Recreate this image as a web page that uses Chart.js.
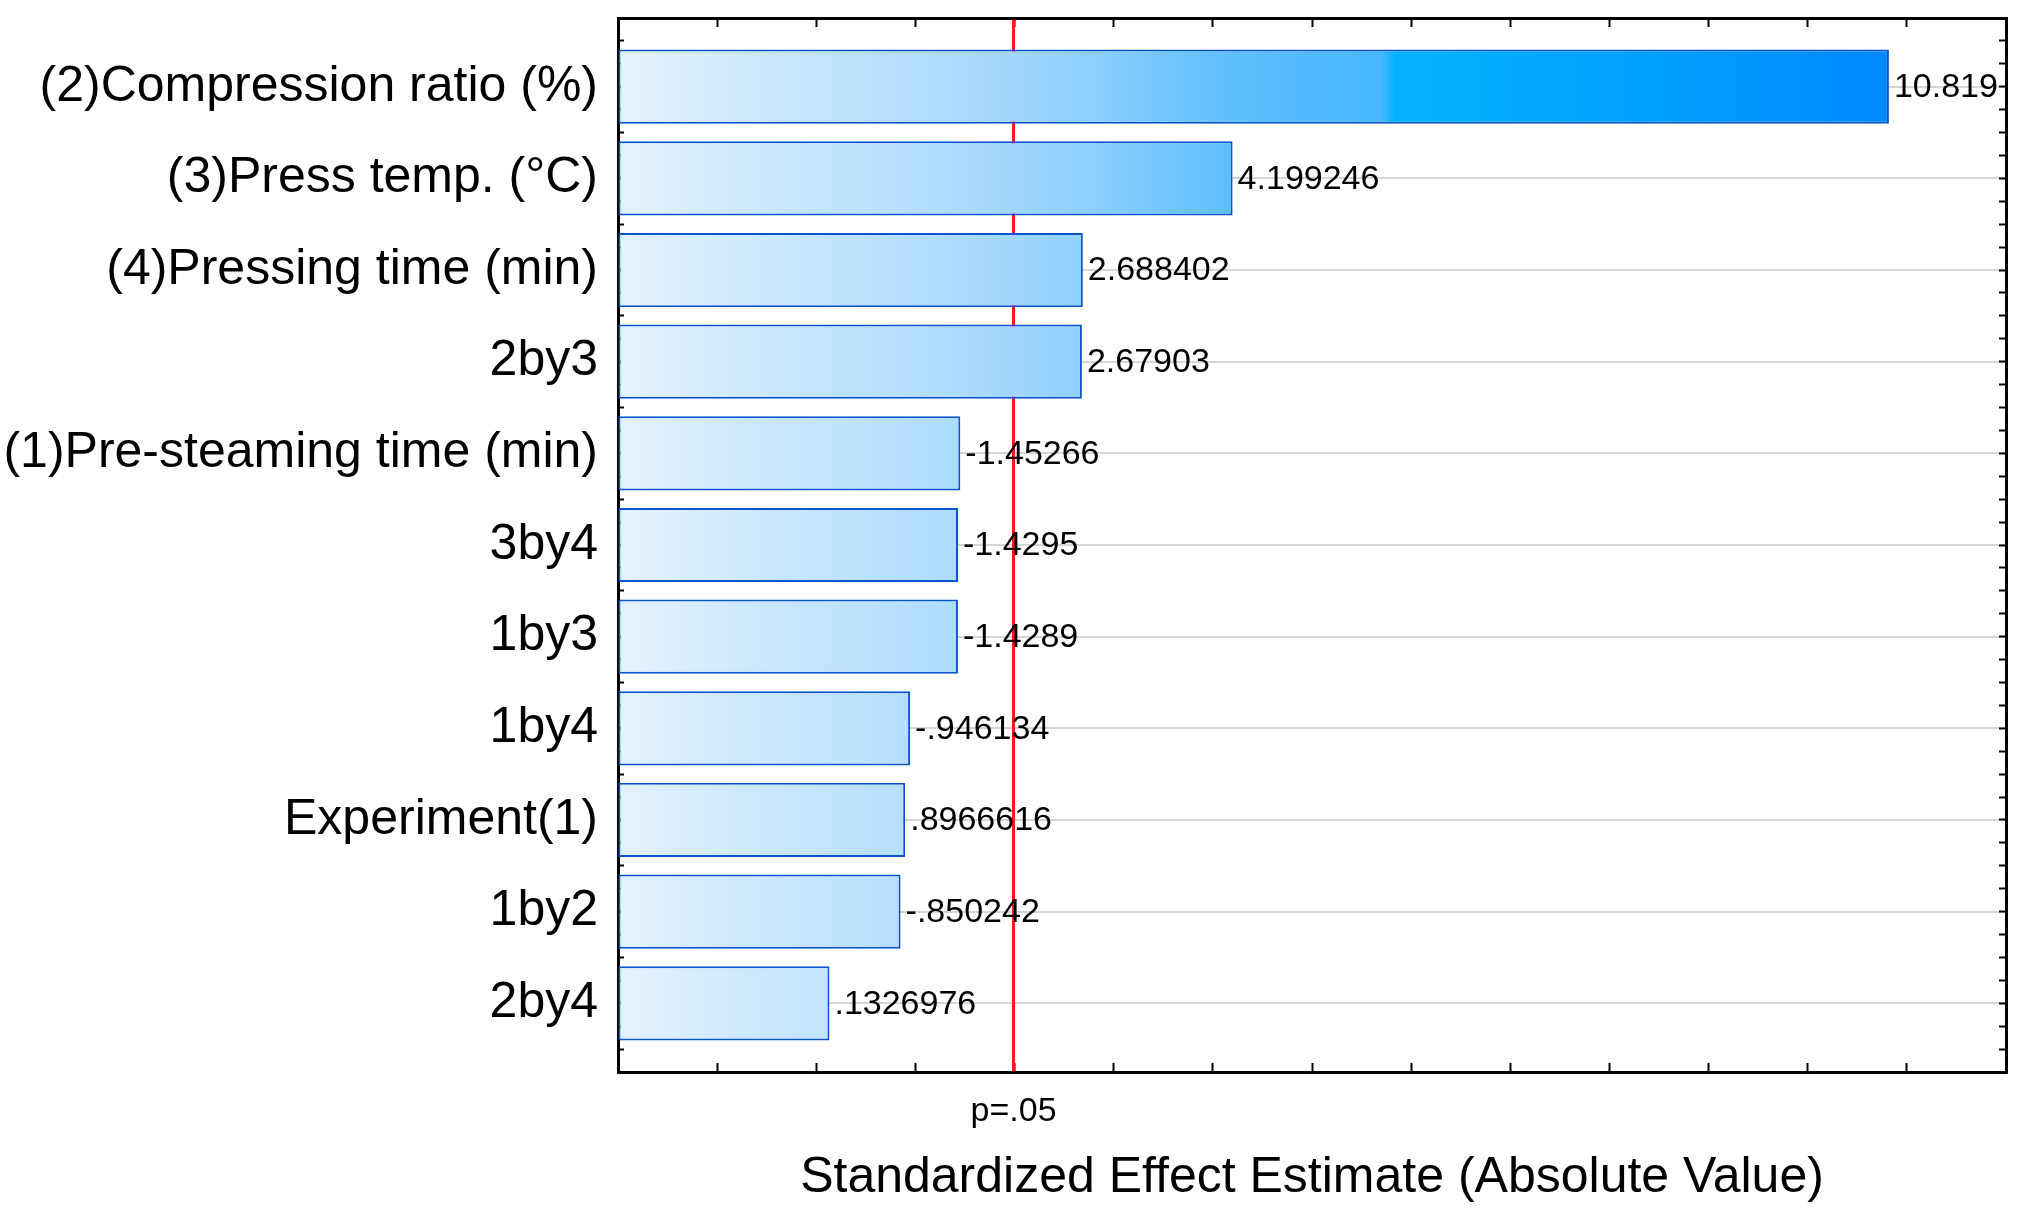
<!DOCTYPE html>
<html>
<head>
<meta charset="utf-8">
<script src="https://cdn.jsdelivr.net/npm/chart.js@4/dist/chart.umd.min.js"></script>
<style>
    html, body { margin: 0; padding: 0; background: #ffffff; }
    #wrap { width: 2025px; height: 1219px; position: relative; }
</style>
</head>
<body>
<div id="wrap"><canvas id="myChart"></canvas></div>
<script>
// Pareto chart of standardized effects
const effects = ["(2)Compression ratio (%)", "(3)Press temp. (°C)", "(4)Pressing time (min)", "2by3",
    "(1)Pre-steaming time (min)", "3by4", "1by3", "1by4", "Experiment(1)", "1by2", "2by4"];
const effectValues = [10.819, 4.199246, 2.688402, 2.67903, -1.45266, -1.4295, -1.4289,
    -0.946134, 0.8966616, -0.850242, 0.1326976];
const pCritical = 1.99;   // p=.05 line
const pLabel = "p=.05";
const xMin = -2;
const xMax = 12;

const FONT = "'Liberation Sans', Arial, sans-serif";

// statistica style numbers: no leading zero
function formatEffect(v) {
    return String(v).replace(/^(-?)0\./, "$1.");
}

function barGradient(chart) {
    let area = chart.chartArea;
    if (!area) {
        return "#7fcbfd";
    }
    let g = chart.ctx.createLinearGradient(area.left, 0, area.right, 0);
    g.addColorStop(0, "#e3f2fd");
    g.addColorStop(0.25, "#abdbfc");
    g.addColorStop(0.34, "#8ecffd");
    g.addColorStop(0.44, "#5ebffd");
    g.addColorStop(0.55, "#45b7fd");
    g.addColorStop(0.56, "#05b2ff");
    g.addColorStop(0.75, "#00a0fe");
    g.addColorStop(0.92, "#0088fe");
    g.addColorStop(1, "#0080ff");
    return g;
}

// no extra room for half labels at the ends
function noPad(s) {
    s.paddingTop = 0;
    s.paddingBottom = 0;
}

// value text at the end of each bar
const valueLabels = {
    id: "valueLabels",
    afterDatasetsDraw(chart) {
        let ctx = chart.ctx;
        let meta = chart.getDatasetMeta(0);
        ctx.save();
        ctx.font = "34px " + FONT;
        ctx.fillStyle = "#000000";
        ctx.textBaseline = "middle";
        ctx.textAlign = "left";
        meta.data.forEach((bar, i) => {
            ctx.fillText(formatEffect(effectValues[i]), bar.x + 5, bar.y + 1);
        });
        ctx.restore();
    }
};

let data = {
    datasets: [{
        data: effectValues.map((v, i) => ({ x: Math.abs(v), y: i })),
        base: xMin,
        backgroundColor: ctx => barGradient(ctx.chart),
        borderColor: "#0a55cc",
        borderWidth: 2,
        borderSkipped: false,
        categoryPercentage: 1,
        barPercentage: 0.81,
        xAxisID: "x",
        yAxisID: "y"
    }]
};

let config = {
    type: "bar",
    data,
    plugins: [valueLabels],
    options: {
        indexAxis: "y",
        responsive: true,
        maintainAspectRatio: false,
        animation: false,
        layout: { padding: { top: 18, right: 19, bottom: 0, left: 0 } },
        plugins: {
            legend: { display: false },
            tooltip: { enabled: false }
        },
        scales: {
            y: {
                type: "linear",
                position: "left",
                reverse: true,
                offset: false,
                min: -0.75,
                max: 10.75,
                weight: 1,
                afterBuildTicks: s => { s.ticks = effects.map((_, i) => ({ value: i })); },
                afterFit: s => { s.width = 618; noPad(s); },
                ticks: {
                    callback: v => effects[v],
                    font: { family: FONT, size: 50 },
                    color: "#000000",
                    padding: 32,
                    autoSkip: false
                },
                grid: { offset: false, color: "#d6d6d6", lineWidth: 2, tickLength: -12, tickColor: "#000000", tickWidth: 3 },
                border: { display: true, color: "#000000", width: 3 }
            },
            yMinor: {
                type: "linear",
                position: "left",
                reverse: true,
                offset: false,
                min: -0.75,
                max: 10.75,
                weight: 0,
                afterFit: s => { s.width = 0; noPad(s); },
                ticks: { display: false, stepSize: 0.25, autoSkip: false },
                grid: { offset: false, drawOnChartArea: false, tickLength: -6, tickColor: "#000000", tickWidth: 2 },
                border: { display: false }
            },
            yr: {
                type: "linear",
                position: "right",
                reverse: true,
                offset: false,
                min: -0.75,
                max: 10.75,
                afterFit: s => { s.width = 0; noPad(s); },
                ticks: { display: false, stepSize: 0.25, autoSkip: false },
                grid: { offset: false, drawOnChartArea: false, tickLength: -7, tickColor: "#000000", tickWidth: 2 },
                border: { display: true, color: "#000000", width: 3 }
            },
            x: {
                type: "linear",
                position: "bottom",
                min: xMin,
                max: xMax,
                weight: 0,
                afterFit: s => { s.height = 0; },
                ticks: { display: false, stepSize: 1 },
                grid: { drawOnChartArea: false, tickLength: -9, tickColor: "#000000", tickWidth: 2 },
                border: { display: true, color: "#000000", width: 3 }
            },
            x2: {
                type: "linear",
                position: "top",
                min: xMin,
                max: xMax,
                afterFit: s => { s.height = 0; },
                ticks: { display: false, stepSize: 1 },
                grid: { drawOnChartArea: false, tickLength: -9, tickColor: "#000000", tickWidth: 2 },
                border: { display: true, color: "#000000", width: 3 }
            },
            xp: {
                type: "linear",
                position: "bottom",
                min: xMin,
                max: xMax,
                weight: 1,
                z: 1,
                afterBuildTicks: s => { s.ticks = [{ value: pCritical }]; },
                afterFit: s => { s.height = 147; },
                ticks: {
                    callback: () => pLabel,
                    font: { family: FONT, size: 34 },
                    color: "#000000",
                    padding: 19,
                    maxRotation: 0,
                    autoSkip: false
                },
                grid: { color: "#ff1a1a", lineWidth: 3, drawTicks: false },
                border: { display: false },
                title: {
                    display: true,
                    text: "Standardized Effect Estimate (Absolute Value)",
                    font: { family: FONT, size: 50 },
                    color: "#000000",
                    padding: { top: 0, bottom: 11 }
                }
            }
        }
    }
};

var myChart = new Chart(document.getElementById("myChart"), config);
</script>
</body>
</html>
